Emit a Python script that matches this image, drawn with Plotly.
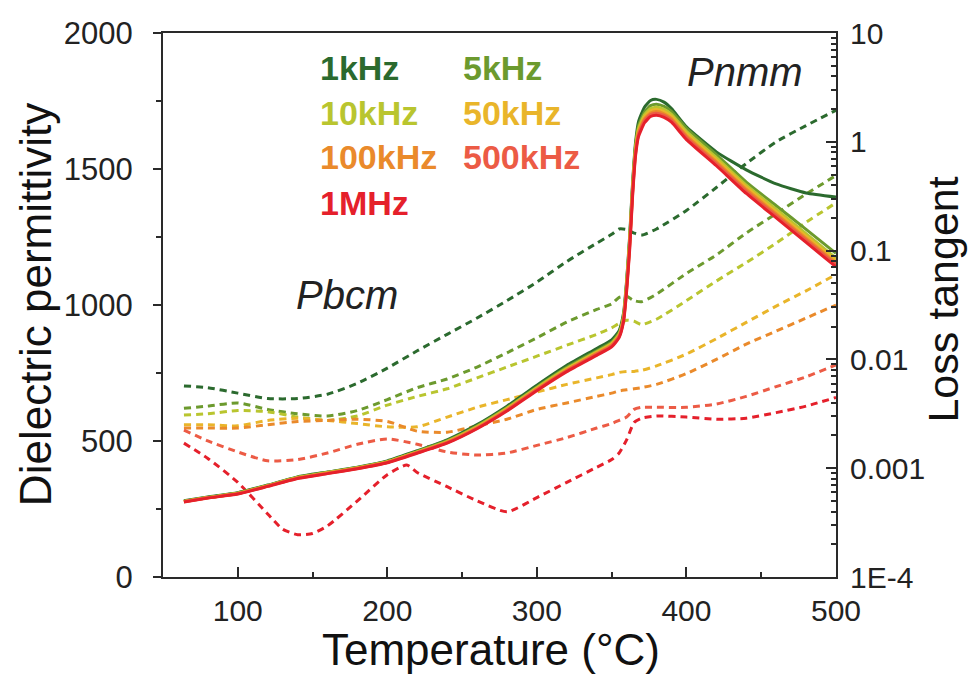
import plotly.graph_objects as go

# ---------------- data ----------------
# Dielectric permittivity (solid lines), temperature in degC
T_perm = [64, 80, 100, 120, 140, 160, 180, 200, 220, 240, 260, 280, 300, 320, 340, 350, 355,
          358, 360, 362, 364, 366, 368, 372, 376, 380, 385, 390, 400, 420, 440, 460, 480, 500]

perm_1kHz = [280, 294, 310, 338, 368, 386, 404, 427, 464, 504, 560, 628, 705, 778, 840, 872, 906,
             972, 1090, 1250, 1450, 1600, 1675, 1728, 1752, 1756, 1746, 1722, 1655, 1563, 1497, 1445, 1412, 1397]
perm_5kHz = [279, 293, 309, 337, 367, 385, 403, 425, 462, 501, 556, 623, 699, 771, 832, 863, 898,
             964, 1082, 1240, 1440, 1588, 1660, 1710, 1733, 1738, 1730, 1712, 1650, 1553, 1452, 1365, 1278, 1190]
perm_10kHz = [278, 292, 308, 336, 366, 384, 402, 424, 460, 499, 553, 620, 696, 767, 828, 859, 893,
              958, 1075, 1232, 1432, 1580, 1650, 1700, 1722, 1727, 1719, 1701, 1638, 1542, 1441, 1352, 1262, 1172]
perm_50kHz = [278, 292, 307, 335, 365, 383, 401, 423, 459, 497, 551, 618, 693, 764, 825, 856, 890,
              954, 1070, 1225, 1425, 1572, 1642, 1692, 1714, 1719, 1711, 1693, 1630, 1534, 1433, 1343, 1253, 1163]
perm_100kHz = [277, 291, 307, 335, 364, 382, 400, 422, 458, 496, 549, 616, 691, 761, 822, 853, 887,
               950, 1064, 1218, 1418, 1565, 1635, 1685, 1706, 1711, 1703, 1685, 1622, 1526, 1425, 1335, 1245, 1155]
perm_500kHz = [277, 291, 306, 334, 363, 381, 399, 421, 457, 494, 547, 613, 688, 758, 819, 850, 884,
               946, 1058, 1210, 1410, 1558, 1628, 1678, 1700, 1705, 1697, 1679, 1616, 1520, 1418, 1328, 1238, 1148]
perm_1MHz = [276, 290, 305, 333, 362, 380, 398, 420, 455, 492, 545, 610, 685, 755, 815, 846, 880,
             940, 1050, 1200, 1400, 1550, 1620, 1670, 1693, 1698, 1690, 1672, 1608, 1512, 1410, 1320, 1230, 1140]

# Loss tangent (dashed lines)
T_loss = [64, 80, 100, 120, 140, 160, 180, 200, 220, 240, 260, 280, 300, 320, 340, 350, 355,
          360, 365, 370, 380, 400, 420, 440, 460, 480, 500]

tan_1kHz = [5.70e-3, 5.50e-3, 4.90e-3, 4.37e-3, 4.37e-3, 4.79e-3, 6.03e-3, 8.32e-3, 1.20e-2, 1.70e-2,
            2.40e-2, 3.47e-2, 5.13e-2, 7.94e-2, 0.117, 0.141, 0.158, 0.156, 0.145, 0.139, 0.158,
            0.234, 0.380, 0.631, 1.0, 1.41, 1.95]
tan_5kHz = [3.55e-3, 3.72e-3, 3.98e-3, 3.47e-3, 3.16e-3, 3.02e-3, 3.39e-3, 4.27e-3, 5.50e-3, 6.61e-3,
            8.51e-3, 1.15e-2, 1.58e-2, 2.20e-2, 2.88e-2, 3.24e-2, 3.72e-2, 3.80e-2, 3.47e-2, 3.39e-2,
            3.98e-2, 6.17e-2, 9.12e-2, 0.145, 0.219, 0.331, 0.490]
tan_10kHz = [3.09e-3, 3.16e-3, 3.39e-3, 3.31e-3, 2.95e-3, 2.75e-3, 3.02e-3, 3.80e-3, 4.57e-3, 5.37e-3,
             6.76e-3, 8.51e-3, 1.07e-2, 1.35e-2, 1.70e-2, 1.95e-2, 2.14e-2, 2.29e-2, 2.24e-2, 2.09e-2,
             2.34e-2, 3.47e-2, 5.25e-2, 7.76e-2, 0.117, 0.182, 0.275]
tan_50kHz = [2.51e-3, 2.51e-3, 2.45e-3, 2.75e-3, 2.88e-3, 2.75e-3, 2.57e-3, 2.40e-3, 2.40e-3, 2.95e-3,
             3.63e-3, 4.27e-3, 5.01e-3, 5.89e-3, 6.76e-3, 7.24e-3, 7.59e-3, 7.76e-3, 7.76e-3, 7.94e-3,
             8.71e-3, 1.12e-2, 1.55e-2, 2.19e-2, 3.09e-2, 4.27e-2, 6.03e-2]
tan_100kHz = [2.34e-3, 2.34e-3, 2.34e-3, 2.51e-3, 2.69e-3, 2.75e-3, 2.82e-3, 2.69e-3, 2.19e-3, 2.14e-3,
              2.45e-3, 2.82e-3, 3.47e-3, 3.98e-3, 4.57e-3, 4.90e-3, 5.13e-3, 5.25e-3, 5.37e-3, 5.50e-3,
              5.89e-3, 7.41e-3, 1.00e-2, 1.38e-2, 1.82e-2, 2.40e-2, 3.16e-2]
tan_500kHz = [2.24e-3, 1.78e-3, 1.41e-3, 1.17e-3, 1.20e-3, 1.38e-3, 1.66e-3, 1.86e-3, 1.66e-3, 1.41e-3,
              1.32e-3, 1.38e-3, 1.62e-3, 1.91e-3, 2.34e-3, 2.57e-3, 2.75e-3, 2.95e-3, 3.47e-3, 3.63e-3,
              3.63e-3, 3.63e-3, 3.89e-3, 4.57e-3, 5.62e-3, 6.92e-3, 8.91e-3]

T_loss_1MHz = [64, 80, 100, 120, 130, 140, 150, 160, 180, 200, 213, 220, 240, 260, 280, 300, 320, 340,
               350, 355, 360, 365, 370, 380, 400, 420, 440, 460, 480, 500]
tan_1MHz = [1.70e-3, 1.23e-3, 7.41e-4, 3.80e-4, 2.75e-4, 2.45e-4, 2.51e-4, 2.95e-4, 5.01e-4, 8.71e-4,
            1.07e-3, 9.12e-4, 6.76e-4, 5.01e-4, 3.98e-4, 5.37e-4, 7.41e-4, 1.02e-3, 1.20e-3, 1.38e-3,
            1.82e-3, 2.63e-3, 2.88e-3, 3.02e-3, 2.95e-3, 2.82e-3, 2.88e-3, 3.24e-3, 3.72e-3, 4.47e-3]

freq_labels = ["1kHz", "5kHz", "10kHz", "50kHz", "100kHz", "500kHz", "1MHz"]
colors = ["#2b6a2e", "#6c9a2e", "#b9c52f", "#e9b52a", "#ea8a2b", "#ec5b45", "#e5202b"]

perm_series = [perm_1kHz, perm_5kHz, perm_10kHz, perm_50kHz, perm_100kHz, perm_500kHz, perm_1MHz]
loss_series = [(T_loss, tan_1kHz), (T_loss, tan_5kHz), (T_loss, tan_10kHz), (T_loss, tan_50kHz),
               (T_loss, tan_100kHz), (T_loss, tan_500kHz), (T_loss_1MHz, tan_1MHz)]

left_ticks = [0, 500, 1000, 1500, 2000]
right_tickvals = [1e-4, 1e-3, 1e-2, 1e-1, 1, 10]
right_ticktext = ["1E-4", "0.001", "0.01", "0.1", "1", "10"]
x_ticks = [100, 200, 300, 400, 500]

FONT = "Liberation Sans, Arial, sans-serif"
AX = "#2a2a2a"

fig = go.Figure()

# dashed loss-tangent curves (on log axis 'y', right side)
for (tx, tv), c in zip(loss_series, colors):
    fig.add_trace(go.Scatter(x=tx, y=tv, mode="lines", yaxis="y",
                             line=dict(color=c, width=3, dash="7px,5px", shape="spline", smoothing=0.6),
                             hoverinfo="skip"))

# solid permittivity curves (on linear axis 'y2', left side)
for pv, c in zip(perm_series, colors):
    fig.add_trace(go.Scatter(x=T_perm, y=pv, mode="lines", yaxis="y2",
                             line=dict(color=c, width=3, shape="spline", smoothing=0.5),
                             hoverinfo="skip"))

# legend-like coloured labels
leg_pos = [(0.230, 0.936), (0.443, 0.936), (0.230, 0.853), (0.443, 0.853),
           (0.230, 0.772), (0.443, 0.772), (0.230, 0.688)]
for lab, c, (px, py) in zip(freq_labels, colors, leg_pos):
    fig.add_annotation(text="<b>%s</b>" % lab, xref="paper", yref="paper", x=px, y=py,
                       xanchor="left", yanchor="middle", showarrow=False,
                       font=dict(family=FONT, size=34, color=c))

fig.add_annotation(text="<i>Pnmm</i>", xref="paper", yref="paper", x=0.776, y=0.928,
                   xanchor="left", yanchor="middle", showarrow=False,
                   font=dict(family=FONT, size=40, color="#222"))
fig.add_annotation(text="<i>Pbcm</i>", xref="paper", yref="paper", x=0.194, y=0.518,
                   xanchor="left", yanchor="middle", showarrow=False,
                   font=dict(family=FONT, size=40, color="#222"))

# axis titles
fig.add_annotation(text="Dielectric permittivity", xref="paper", yref="paper", x=-0.190, y=0.50,
                   xanchor="center", yanchor="middle", textangle=-90, showarrow=False,
                   font=dict(family=FONT, size=44, color="#111"))
fig.add_annotation(text="Loss tangent", xref="paper", yref="paper", x=1.159, y=0.51,
                   xanchor="center", yanchor="middle", textangle=-90, showarrow=False,
                   font=dict(family=FONT, size=43, color="#111"))
fig.add_annotation(text="Temperature (°C)", xref="paper", yref="paper", x=0.487, y=-0.134,
                   xanchor="center", yanchor="middle", showarrow=False,
                   font=dict(family=FONT, size=44, color="#111"))

minor_log = [m * 10.0 ** e for e in range(-4, 1) for m in range(2, 10)]

fig.update_layout(
    width=968, height=689,
    margin=dict(l=163, r=132, t=33, b=112),
    paper_bgcolor="white", plot_bgcolor="white",
    showlegend=False,
    font=dict(family=FONT, color="#222"),
    xaxis=dict(range=[50, 500], tickmode="array", tickvals=x_ticks, automargin=False,
               ticks="inside", ticklen=10, tickwidth=2, tickcolor=AX,
               minor=dict(ticks="inside", ticklen=5, tickwidth=2, tickcolor=AX, dtick=50, tick0=0),
               showline=True, linecolor=AX, linewidth=2, mirror=True,
               showgrid=False, zeroline=False, ticklabelstandoff=6,
               tickfont=dict(size=30, color="#222")),
    yaxis=dict(type="log", range=[-4, 1], side="right", automargin=False,
               tickmode="array", tickvals=right_tickvals, ticktext=right_ticktext,
               ticks="inside", ticklen=10, tickwidth=2, tickcolor=AX,
               minor=dict(tickmode="array", tickvals=minor_log, ticks="inside", ticklen=5,
                          tickwidth=1.5, tickcolor=AX),
               showline=True, linecolor=AX, linewidth=2,
               showgrid=False, zeroline=False, ticklabelstandoff=6,
               tickfont=dict(size=30, color="#222")),
    yaxis2=dict(range=[0, 2000], side="left", overlaying="y", automargin=False,
                tickmode="array", tickvals=left_ticks,
                ticks="outside", ticklen=8, tickwidth=2, tickcolor=AX,
                minor=dict(ticks="outside", ticklen=5, tickwidth=2, tickcolor=AX, dtick=250, tick0=0),
                showline=True, linecolor=AX, linewidth=2,
                showgrid=False, zeroline=False, ticklabelstandoff=14,
                tickfont=dict(size=31, color="#222")),
)

fig.write_html("out.html", config={"displayModeBar": False},
               post_script="document.body.style.margin='0';document.body.style.overflow='hidden';")
